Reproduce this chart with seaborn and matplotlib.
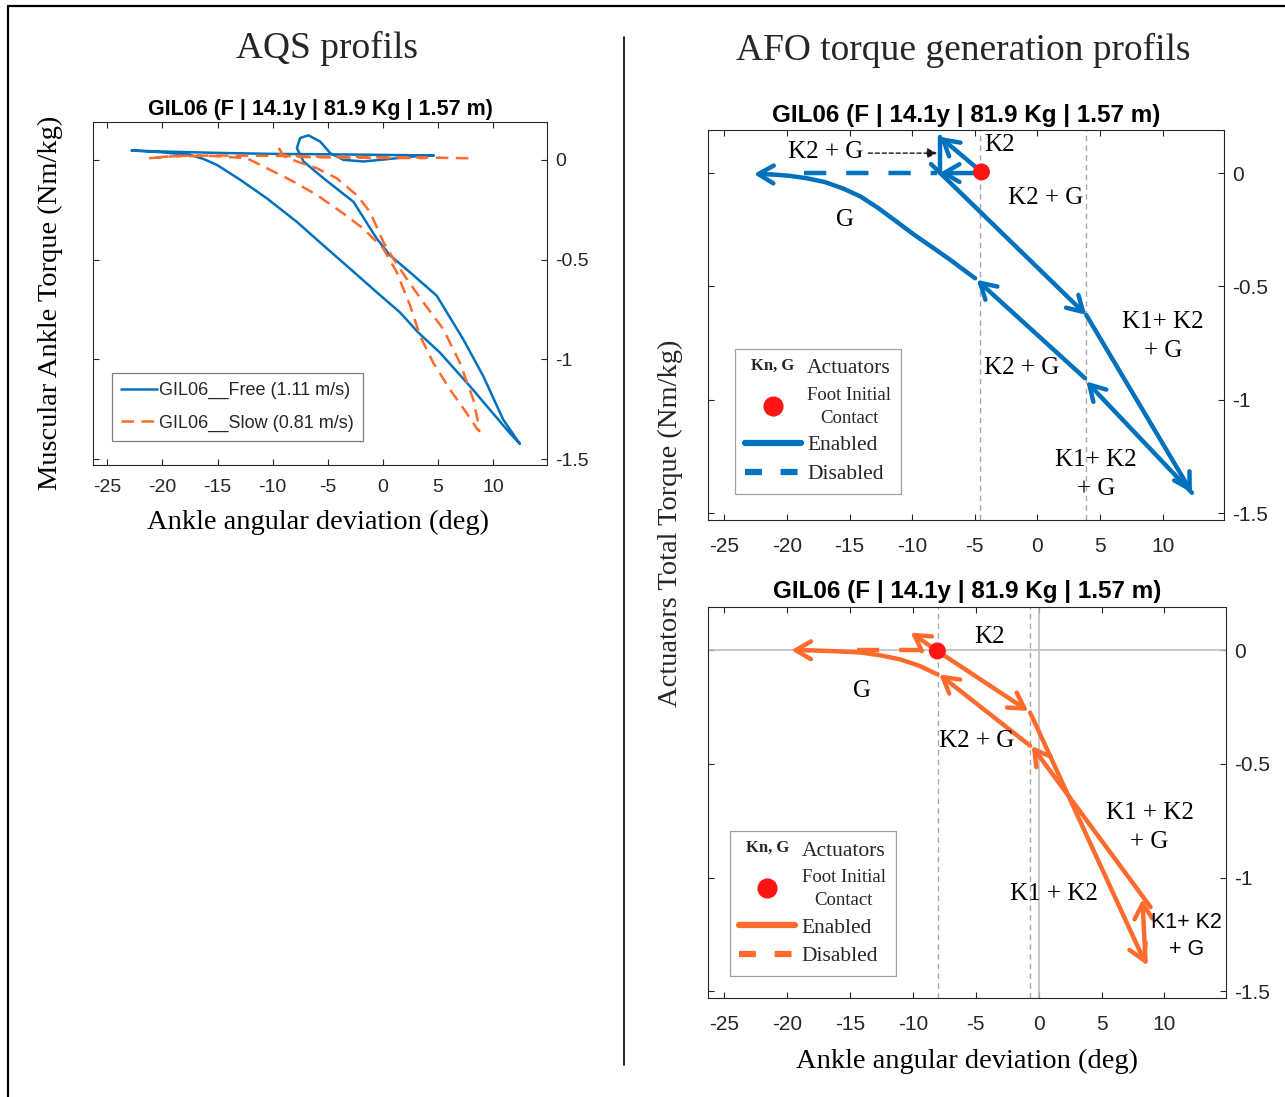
import matplotlib
matplotlib.use("Agg")
import matplotlib.pyplot as plt
import seaborn as sns
from matplotlib.lines import Line2D
from matplotlib.legend_handler import HandlerBase
from matplotlib.text import Text

BLUE = "#0072BD"
ORANGE = "#FF6B2C"
RED = "#FF1414"
AXC = "#262626"
SERIF = "Liberation Serif"

subject = "GIL06 (F | 14.1y | 81.9 Kg | 1.57 m)"
xticks = [-25, -20, -15, -10, -5, 0, 5, 10]
yticks = [-1.5, -1, -0.5, 0]
ytick_labels = ["-1.5", "-1", "-0.5", "0"]

# ---- AQS profils: muscular ankle torque loops ----
free_x = [4.6, 0.0, -5.0, -10.0, -15.0, -20.0, -22.8, -20.5, -17.5, -16.3, -15.06, -12.94, -10.52, -7.8, -5.39,
          -2.97, -0.55, 1.56, 3.22, 5.19, 7.91, 9.72, 11.54, 12.44, 10.93, 9.12, 7.3, 4.89, 2.47,
          0.66, -0.55, -2.67, -5.39, -7.2, -7.8, -7.5, -6.75, -5.69, -4.78, -3.58, -1.76, 0.66, 3.68, 4.6]
free_y = [0.022, 0.025, 0.028, 0.03, 0.035, 0.042, 0.047, 0.04, 0.025, 0.005, -0.025, -0.10, -0.193, -0.311, -0.429,
          -0.546, -0.664, -0.765, -0.866, -0.967, -1.135, -1.253, -1.371, -1.424, -1.303, -1.085, -0.90, -0.681, -0.564,
          -0.479, -0.395, -0.21, -0.092, -0.008, 0.059, 0.11, 0.123, 0.092, 0.034, 0.0, -0.008, 0.005, 0.022, 0.022]
slow_x = [7.76, 4.0, 0.0, -5.0, -10.0, -15.0, -19.0, -21.25, -19.0, -15.5, -12.33, -10.52, -8.41, -5.99, -3.58,
          -1.76, 0.05, 1.26, 2.47, 3.38, 4.58, 6.1, 7.61, 8.52, 8.75, 8.7, 8.21, 7.0, 5.49, 3.68, 2.17,
          0.96, 0.05, -1.16, -2.36, -4.18, -5.99, -7.8, -9.0, -9.5, -9.3, -8.0, -4.0, 0.0, 4.0]
slow_y = [0.008, 0.012, 0.014, 0.016, 0.02, 0.022, 0.02, 0.008, 0.018, 0.02, 0.008, -0.042, -0.10, -0.176, -0.269,
          -0.345, -0.445, -0.563, -0.73, -0.883, -1.018, -1.152, -1.27, -1.346, -1.36, -1.33, -1.202, -1.018, -0.849, -0.715, -0.597,
          -0.496, -0.412, -0.261, -0.177, -0.092, -0.042, -0.008, 0.02, 0.065, 0.025, 0.015, 0.012, 0.01, 0.009]

# ---- AFO profils, free walking (blue) ----
top_contact = (-4.47, 0.005)
top_arrows = [(-4.47, 0.005, -7.8, 0.16), (-4.6, 0.0, -7.8, 0.0), (-8.5, 0.04, 3.9, -0.626),
              (3.9, -0.626, 12.33, -1.41), (12.33, -1.41, 3.9, -0.919), (3.8, -0.905, -4.84, -0.471)]
top_segments = [(-7.8, 0.16, -7.8, 0.0)]
top_g_x = [-4.98, -6.98, -8.4, -9.82, -11.25, -12.67, -14.1, -15.52, -16.95, -18.4, -19.8, -21.2, -22.64]
top_g_y = [-0.464, -0.382, -0.327, -0.273, -0.214, -0.156, -0.104, -0.068, -0.040, -0.023, -0.012, -0.006, -0.004]
top_off_x = [-18.65, -8.0]
top_off_y = [0.0, 0.0]
top_vlines = [-4.55, 3.9]
top_texts = [(-2.99, 0.123, "K2", SERIF), (-16.95, 0.093, "K2 + G", SERIF), (0.68, -0.11, "K2 + G", SERIF),
             (-15.35, -0.207, "G", SERIF), (10.0, -0.722, "K1+ K2\n+ G", SERIF), (-1.24, -0.859, "K2 + G", SERIF),
             (4.67, -1.33, "K1+ K2\n+ G", SERIF)]
top_pointer = (-13.5, 0.088, -8.0, 0.088)

# ---- AFO profils, slow walking (orange) ----
bot_contact = (-8.06, -0.003)
bot_arrows = [(-8.06, -0.003, -10.18, 0.078), (-8.06, -0.003, -0.83, -0.267), (-0.68, -0.274, 8.52, -1.381),
              (8.5, -1.37, 8.25, -1.095), (8.9, -1.13, -0.55, -0.421), (-0.68, -0.42, -7.91, -0.106)]
bot_segments = []
bot_g_x = [-8.06, -9.5, -11.03, -12.6, -14.15, -16.3, -18.4, -19.68]
bot_g_y = [-0.106, -0.068, -0.04, -0.022, -0.01, -0.004, 0.0, 0.0]
bot_off_x = [-14.44, -8.5]
bot_off_y = [0.0, 0.0]
bot_vlines = [-8.0, -0.68]
bot_texts = [(-3.89, 0.057, "K2", SERIF), (-14.05, -0.18, "G", SERIF), (-4.92, -0.40, "K2 + G", SERIF),
             (8.81, -0.779, "K1 + K2\n+ G", SERIF), (1.19, -1.073, "K1 + K2", SERIF),
             (11.75, -1.258, "K1+ K2\n+ G", "Liberation Sans")]

sns.set_theme(style="white")
plt.rcParams["font.family"] = ["Liberation Sans", "DejaVu Sans"]
plt.rcParams["axes.unicode_minus"] = False

fig = plt.figure(figsize=(12.85, 10.97), dpi=100)


def style_axes(ax, fs, xpad):
    ax.set_xlim(-26.3, 14.9)
    ax.set_ylim(-1.53, 0.19)
    ax.set_xticks(xticks)
    ax.set_xticklabels([str(t) for t in xticks])
    ax.set_yticks(yticks)
    ax.set_yticklabels(ytick_labels)
    ax.tick_params(direction="in", top=True, right=True, left=True, bottom=True,
                   labelleft=False, labelright=True, length=4, width=0.8,
                   colors=AXC, labelsize=fs)
    ax.tick_params(axis="x", pad=xpad)
    ax.tick_params(axis="y", pad=6)
    for s in ax.spines.values():
        s.set_visible(True)
        s.set_color(AXC)
        s.set_linewidth(0.8)
    ax.set_xlabel("")
    ax.set_ylabel("")


class KnHandle:
    pass


class KnHandler(HandlerBase):
    def create_artists(self, legend, orig_handle, xdescent, ydescent, width, height, fontsize, trans):
        t = Text(-xdescent + width / 2, -ydescent + height / 2, "Kn, G", ha="center", va="center",
                 fontsize=12, fontweight="bold", family=SERIF, transform=trans)
        return [t]


# ---------------- left: AQS ----------------
ax0 = fig.add_axes([0.0724, 0.5761, 0.3533, 0.3127])
sns.lineplot(x=free_x, y=free_y, sort=False, estimator=None, color=BLUE, lw=1.8,
             label="GIL06__Free (1.11 m/s)", ax=ax0)
sns.lineplot(x=slow_x, y=slow_y, sort=False, estimator=None, color=ORANGE, lw=1.8,
             linestyle=(0, (5.0, 3.0)), label="GIL06__Slow (0.81 m/s)", ax=ax0)
style_axes(ax0, 14, 10)
ax0.set_title(subject, fontsize=15.5, fontweight="bold", color="black", pad=5)
ax0.set_xlabel("Ankle angular deviation (deg)", family=SERIF, fontsize=20.5, color="black")
ax0.xaxis.set_label_coords(0.496, -0.131)
ax0.set_ylabel("Muscular Ankle Torque (Nm/kg)", family=SERIF, fontsize=20.5, color="black")
ax0.yaxis.set_label_coords(-0.066, 0.472)
leg0 = ax0.legend(loc="lower left", bbox_to_anchor=(0.042, 0.07), borderaxespad=0, fontsize=13,
                  frameon=True, fancybox=False, edgecolor="#7F7F7F", framealpha=1,
                  handlelength=2.0, handletextpad=0.1, borderpad=0.5, labelspacing=0.85)
leg0.get_frame().set_linewidth(0.9)


def afo_panel(ax, color, contact, arrows, segments, g_x, g_y, off_x, off_y, vlines, texts, zero_lines):
    for v in vlines:
        ax.axvline(v, color="#A8A8A8", lw=1, ls=(0, (4, 3)), zorder=1)
    if zero_lines:
        ax.axhline(0, color="#BDBDBD", lw=1.2, zorder=1)
        ax.axvline(0, color="#BDBDBD", lw=1.2, zorder=1)
    sns.lineplot(x=off_x, y=off_y, sort=False, estimator=None, color=color, lw=3.2,
                 linestyle=(0, (5, 4.5)), ax=ax, legend=False)
    sns.lineplot(x=g_x[:-1], y=g_y[:-1], sort=False, estimator=None, color=color, lw=3.2, ax=ax, legend=False)
    ax.annotate("", xy=(g_x[-1], g_y[-1]), xytext=(g_x[-2], g_y[-2]),
                arrowprops=dict(arrowstyle="->,head_length=0.55,head_width=0.32", lw=3.2, color=color,
                                shrinkA=0, shrinkB=0, mutation_scale=20))
    for x0, y0, x1, y1 in segments:
        sns.lineplot(x=[x0, x1], y=[y0, y1], sort=False, estimator=None, color=color, lw=3.2, ax=ax, legend=False)
    for x0, y0, x1, y1 in arrows:
        ax.annotate("", xy=(x1, y1), xytext=(x0, y0),
                    arrowprops=dict(arrowstyle="->,head_length=0.55,head_width=0.32", lw=3.2, color=color,
                                    shrinkA=0, shrinkB=0, mutation_scale=20))
    sns.scatterplot(x=[contact[0]], y=[contact[1]], color=RED, s=150, edgecolor="none", zorder=5, ax=ax, legend=False)
    for x, y, s, fam in texts:
        ax.text(x, y, s, ha="center", va="center", fontsize=18 if fam == SERIF else 15.5,
                family=fam, linespacing=1.4, color="black", zorder=6)
    handles = [KnHandle(),
               Line2D([], [], ls="none", marker="o", ms=13.5, color=RED),
               Line2D([], [], color=color, lw=4.5),
               Line2D([], [], color=color, lw=4.5, ls=(0, (2.7, 3)))]
    labels = ["Actuators", "Foot Initial\nContact", "Enabled", "Disabled"]
    leg = ax.legend(handles, labels, handler_map={KnHandle: KnHandler()},
                    prop={"family": SERIF, "size": 15.5}, frameon=True, fancybox=False,
                    edgecolor="#A0A0A0", framealpha=1, handlelength=2.6, handletextpad=0.3,
                    borderpad=0.45, labelspacing=0.4, borderaxespad=0)
    leg.get_frame().set_linewidth(0.9)
    txts = leg.get_texts()
    txts[1].set_fontsize(13.5)
    txts[1].set_multialignment("center")
    txts[1].set_linespacing(1.45)
    return leg


# ---------------- right top: free ----------------
ax1 = fig.add_axes([0.551, 0.526, 0.4016, 0.3555])
leg1 = afo_panel(ax1, BLUE, top_contact, top_arrows, top_segments, top_g_x, top_g_y,
                 top_off_x, top_off_y, top_vlines, top_texts, False)
leg1.set_loc("lower left")
leg1.set_bbox_to_anchor((0.052, 0.067), transform=ax1.transAxes)
ax1.annotate("", xy=(top_pointer[2], top_pointer[3]), xytext=(top_pointer[0], top_pointer[1]),
             arrowprops=dict(arrowstyle="-|>,head_length=0.5,head_width=0.25", lw=1, ls=(0, (3, 2)),
                             color="#1A1A1A", shrinkA=0, shrinkB=0, mutation_scale=12))
style_axes(ax1, 15, 12)
ax1.set_title(subject, fontsize=17.5, fontweight="bold", color="black", pad=6)

# ---------------- right bottom: slow ----------------
ax2 = fig.add_axes([0.551, 0.0902, 0.4031, 0.3564])
leg2 = afo_panel(ax2, ORANGE, bot_contact, bot_arrows, bot_segments, bot_g_x, bot_g_y,
                 bot_off_x, bot_off_y, bot_vlines, bot_texts, True)
leg2.set_loc("lower left")
leg2.set_bbox_to_anchor((0.042, 0.056), transform=ax2.transAxes)
style_axes(ax2, 15, 12)
ax2.set_title(subject, fontsize=17.5, fontweight="bold", color="black", pad=6.5)
ax2.set_xlabel("Ankle angular deviation (deg)", family=SERIF, fontsize=20.5, color="black")
ax2.xaxis.set_label_coords(0.5, -0.130)

fig.text(0.5214, 0.5232, "Actuators Total Torque (Nm/kg)", rotation=90, ha="center", va="center",
         family=SERIF, fontsize=20.5)
fig.text(0.2545, 0.9562, "AQS profils", ha="center", va="center", family=SERIF, fontsize=27)
fig.text(0.7494, 0.9544, "AFO torque generation profils", ha="center", va="center", family=SERIF, fontsize=27)

# frame and divider
fig.add_artist(Line2D([8 / 1285, 8 / 1285], [0, 1 - 6 / 1097], color="black", lw=1.6))
fig.add_artist(Line2D([8 / 1285, 1], [1 - 6 / 1097, 1 - 6 / 1097], color="black", lw=1.6))
fig.add_artist(Line2D([624 / 1285, 624 / 1285], [1 - 37 / 1097, 1 - 1065 / 1097], color="black", lw=1.2))

fig.savefig("out.png", dpi=100, facecolor="white")
